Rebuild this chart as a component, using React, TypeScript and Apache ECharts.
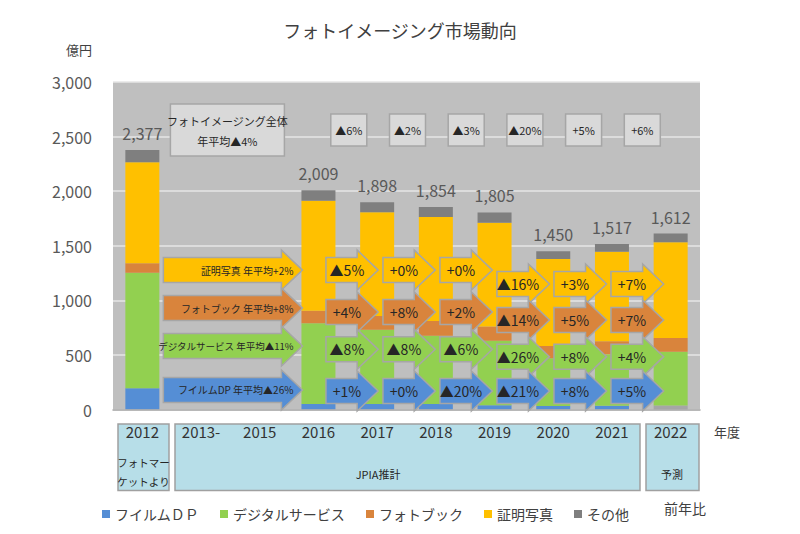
import React, { useEffect, useRef } from "react";
import * as echarts from "echarts";

// ---- data ----
const categories = ["2012", "2013-", "2015", "2016", "2017", "2018", "2019", "2020", "2021", "2022"];
const filmDP = [194, null, null, 50, 50, 50, 40, 32, 35, 37];
const digitalService = [1059, null, null, 739, 680, 625, 589, 437, 472, 491];
const photobook = [86, null, null, 116, 126, 136, 131, 112, 118, 126];
const idPhoto = [927, null, null, 1007, 950, 953, 951, 797, 821, 878];
const totals = [2377, null, null, 2009, 1898, 1854, 1805, 1450, 1517, 1612];

const seriesNames = ["フイルムＤＰ", "デジタルサービス", "フォトブック", "証明写真", "その他"];

// year-on-year labels (row order: 証明写真, フォトブック, デジタルサービス, フイルムDP)
const idPhotoYoY = ["▲5%", "+0%", "+0%", "▲16%", "+3%", "+7%"];
const photobookYoY = ["+4%", "+8%", "+2%", "▲14%", "+5%", "+7%"];
const digitalYoY = ["▲8%", "▲8%", "▲6%", "▲26%", "+8%", "+4%"];
const filmYoY = ["+1%", "+0%", "▲20%", "▲21%", "+8%", "+5%"];
const totalYoY = ["▲6%", "▲2%", "▲3%", "▲20%", "+5%", "+6%"];
const avgLabels = ["証明写真 年平均+2%", "フォトブック 年平均+8%", "デジタルサービス 年平均▲11%", "フイルムDP 年平均▲26%"];
const totalAvgLabel = ["フォトイメージング全体", "年平均▲4%"];
const yTicks = [0, 500, 1000, 1500, 2000, 2500, 3000];

// ---- styles / layout ----
const FONT = '"Noto Sans CJK JP", "Noto Sans", sans-serif';
const C_BLUE = "#558ed5";
const C_GREEN = "#92d050";
const C_ORANGE = "#d9843c";
const C_YELLOW = "#ffc000";
const C_GRAY = "#7f7f7f";
const C_FILM_FORECAST = "#a6a6a6";
const rowColors = [C_YELLOW, C_ORANGE, C_GREEN, C_BLUE];
const rowYoY = [idPhotoYoY, photobookYoY, digitalYoY, filmYoY];
// vertical levels (axis units) where the arrow rows sit
const levelLong = [1277, 929, 581, 179];
const levelEarly = [1277, 893, 551, 169];
const levelLate = [1149, 820, 484, 169];
const boxLevel = 2560;

const others = totals.map((t, i) =>
  t == null ? null : t - (filmDP[i] as number) - (digitalService[i] as number) - (photobook[i] as number) - (idPhoto[i] as number)
);

type Item = { kind: string; from: number; to: number; level: number; text?: string; color?: string; k?: number; row?: number };
const items: Item[] = [];
for (let r = 0; r < 4; r++) {
  items.push({ kind: "long", from: 0, to: 3, level: levelLong[r], text: avgLabels[r], color: rowColors[r], row: r });
}
for (let r = 0; r < 4; r++) {
  for (let k = 0; k < 6; k++) {
    items.push({ kind: "small", from: 3 + k, to: 4 + k, level: k < 3 ? levelEarly[r] : levelLate[r], text: rowYoY[r][k], color: rowColors[r], k, row: r });
  }
}
for (let k = 0; k < 6; k++) {
  items.push({ kind: "box", from: 3 + k, to: 4 + k, level: boxLevel, text: totalYoY[k] });
}
items.push({ kind: "bigbox", from: 1, to: 2, level: boxLevel });

const BH = 12.5, HH = 20, HL = 21;

function renderItem(params: any, api: any) {
  const it = items[params.dataIndex];
  const p0 = api.coord([api.value(0), api.value(2)]);
  const p1 = api.coord([api.value(1), api.value(2)]);
  const cy = p0[1];
  const txt = (x: number, y: number, text: string, size: number, align: string) => ({
    type: "text",
    style: {
      text, x, y, fill: "#262626", fontSize: size, fontFamily: FONT,
      align, verticalAlign: "middle", textAlign: align, textVerticalAlign: "middle",
    },
  });
  if (it.kind === "long" || it.kind === "small") {
    let s: number, t: number;
    if (it.kind === "long") {
      s = p0[0] + 21;
      t = p1[0] - 16;
    } else {
      const k = it.k as number;
      s = p0[0] + 7.5 - 1.7 * k;
      t = p1[0] + 1 - 1.6 * k;
    }
    const pts = [
      [s, cy - BH], [t - HL, cy - BH], [t - HL, cy - HH], [t, cy],
      [t - HL, cy + HH], [t - HL, cy + BH], [s, cy + BH],
    ];
    const children: any[] = [
      { type: "polygon", shape: { points: pts }, style: { fill: it.color, stroke: "#a6a6a6", lineWidth: 1.5 } },
    ];
    if (it.kind === "long") {
      children.push(txt(t - 9, cy, it.text as string, it.row === 2 ? 9.5 : 10, "right"));
    } else {
      children.push(txt(s + 21, cy, it.text as string, 14, "center"));
    }
    return { type: "group", children };
  }
  if (it.kind === "box") {
    const cx = (p0[0] + p1[0]) / 2 + 1;
    return {
      type: "group",
      children: [
        { type: "rect", shape: { x: cx - 18, y: cy - 16, width: 36, height: 32 }, style: { fill: "#d9d9d9", stroke: "#a6a6a6", lineWidth: 1.5 } },
        txt(cx, cy, it.text as string, 11, "center"),
      ],
    };
  }
  // big box
  const cx = (p0[0] + p1[0]) / 2 - 3;
  return {
    type: "group",
    children: [
      { type: "rect", shape: { x: cx - 57, y: cy - 26, width: 114, height: 52 }, style: { fill: "#d9d9d9", stroke: "#a6a6a6", lineWidth: 1.5 } },
      txt(cx, cy - 9, totalAvgLabel[0], 11, "center"),
      txt(cx, cy + 11, totalAvgLabel[1], 11, "center"),
    ],
  };
}

export default function App() {
  const ref = useRef<HTMLDivElement>(null);
  useEffect(() => {
    if (!ref.current) return;
    const chart = echarts.init(ref.current, null, { renderer: "svg" });
    const barBase = { type: "bar", stack: "total", barWidth: 34 };
    const option: any = {
      animation: false,
      backgroundColor: "#ffffff",
      textStyle: { fontFamily: FONT },
      title: {
        text: "フォトイメージング市場動向",
        left: "center",
        top: 16,
        textStyle: { fontSize: 18, fontWeight: "normal", color: "#404040", fontFamily: FONT },
      },
      legend: {
        data: seriesNames,
        left: 97,
        top: 502,
        icon: "rect",
        itemWidth: 8,
        itemHeight: 8,
        itemGap: 21,
        textStyle: { fontSize: 14, color: "#404040", fontFamily: FONT },
      },
      grid: {
        left: 113, right: 100, top: 82, bottom: 124.5,
        show: true, backgroundColor: "#bfbfbf", borderWidth: 0,
      },
      xAxis: {
        type: "category",
        data: categories,
        axisLine: { show: true, lineStyle: { color: "#a6a6a6", width: 1.5 } },
        axisTick: { show: false },
        axisLabel: { interval: 0, fontSize: 15, color: "#333333", margin: 14, fontFamily: FONT },
        z: 5,
      },
      yAxis: {
        type: "value",
        min: yTicks[0],
        max: yTicks[yTicks.length - 1],
        interval: yTicks[1] - yTicks[0],
        axisLine: { show: false },
        axisTick: { show: false },
        splitLine: { lineStyle: { color: "#e6e6e6", width: 1.5 } },
        axisLabel: {
          fontSize: 16, color: "#595959", margin: 21, fontFamily: FONT,
          formatter: (v: number) => v.toLocaleString("en-US"),
        },
      },
      graphic: [
        { type: "text", left: 66, top: 43, style: { text: "億円", fontSize: 13, fill: "#404040", fontFamily: FONT } },
        { type: "text", left: 714, top: 425, style: { text: "年度", fontSize: 13, fill: "#404040", fontFamily: FONT } },
        { type: "text", left: 664, top: 501, style: { text: "前年比", fontSize: 14, fill: "#404040", fontFamily: FONT } },
        { type: "rect", z: -1, shape: { x: 118, y: 424, width: 51, height: 66.5 }, style: { fill: "#b7dee8", stroke: "#a0a0a0", lineWidth: 1.5 } },
        { type: "rect", z: -1, shape: { x: 175, y: 424, width: 465, height: 66.5 }, style: { fill: "#b7dee8", stroke: "#a0a0a0", lineWidth: 1.5 } },
        { type: "rect", z: -1, shape: { x: 646, y: 424, width: 53, height: 66.5 }, style: { fill: "#b7dee8", stroke: "#a0a0a0", lineWidth: 1.5 } },
        { type: "text", x: 143.5, y: 462, style: { text: "フォトマー", fontSize: 10.5, fill: "#262626", fontFamily: FONT, align: "center", verticalAlign: "middle" } },
        { type: "text", x: 143.5, y: 481, style: { text: "ケットより", fontSize: 10.5, fill: "#262626", fontFamily: FONT, align: "center", verticalAlign: "middle" } },
        { type: "text", x: 378, y: 474, style: { text: "JPIA推計", fontSize: 11, fill: "#262626", fontFamily: FONT, align: "center", verticalAlign: "middle" } },
        { type: "text", x: 672, y: 474, style: { text: "予測", fontSize: 11, fill: "#262626", fontFamily: FONT, align: "center", verticalAlign: "middle" } },
      ],
      series: [
        {
          ...barBase, name: seriesNames[0], itemStyle: { color: C_BLUE },
          data: filmDP.map((v, i) => (i === filmDP.length - 1 ? { value: v, itemStyle: { color: C_FILM_FORECAST } } : v)),
        },
        { ...barBase, name: seriesNames[1], itemStyle: { color: C_GREEN }, data: digitalService },
        { ...barBase, name: seriesNames[2], itemStyle: { color: C_ORANGE }, data: photobook },
        { ...barBase, name: seriesNames[3], itemStyle: { color: C_YELLOW }, data: idPhoto },
        {
          ...barBase, name: seriesNames[4], itemStyle: { color: C_GRAY }, data: others,
          label: {
            show: true, position: "top", distance: 9, fontSize: 16, color: "#595959", fontFamily: FONT,
            formatter: (p: any) => (totals[p.dataIndex] == null ? "" : (totals[p.dataIndex] as number).toLocaleString("en-US")),
          },
        },
        {
          type: "custom",
          name: "前年比",
          z: 10,
          clip: false,
          renderItem,
          encode: { x: 0, y: 2 },
          data: items.map((it) => [it.from, it.to, it.level]),
        },
      ],
    };
    chart.setOption(option);
    return () => chart.dispose();
  }, []);
  return (
    <div
      ref={ref}
      style={{ position: "fixed", left: 0, top: 0, width: 800, height: 534, background: "#fff" }}
    />
  );
}
